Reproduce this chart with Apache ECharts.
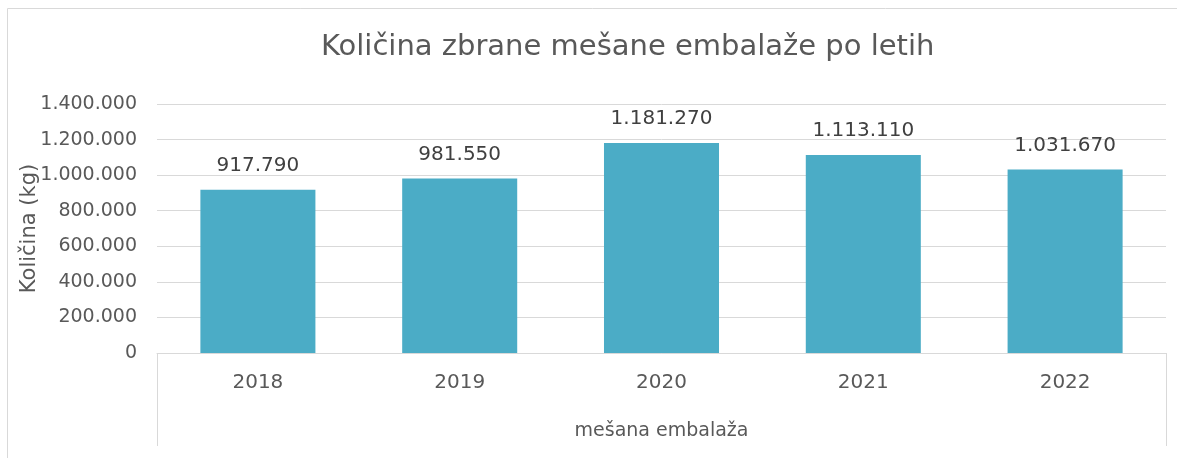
<!DOCTYPE html>
<html><head><meta charset="utf-8">
<script src="https://cdn.jsdelivr.net/npm/echarts@6/dist/echarts.min.js"></script>
<style>html,body{margin:0;padding:0;background:#fff}#c{width:1177px;height:458px}</style>
</head><body><div id="c"></div>
<script>
const categories = ['2018', '2019', '2020', '2021', '2022'];
const values = [917790, 981550, 1181270, 1113110, 1031670];
const groupLabel = ['mešana embalaža'];
const titleText = 'Količina zbrane mešane embalaže po letih';
const yName = 'Količina (kg)';

const fmt = v => String(Math.round(v)).replace(/\B(?=(\d{3})+(?!\d))/g, '.');
const FONT = 'DejaVu Sans';
const chart = echarts.init(document.getElementById('c'));
chart.setOption({
  animation: false,
  textStyle: { fontFamily: FONT },
  graphic: [{
    type: 'rect', shape: { x: 7.5, y: 8.5, width: 1200, height: 500 },
    style: { fill: 'none', stroke: '#D9D9D9', lineWidth: 1 }, silent: true
  }],
  title: {
    text: titleText, left: 316, top: 28,
    textStyle: { fontFamily: FONT, fontSize: 29, fontWeight: 'normal', color: '#595959' }
  },
  grid: { left: 157, right: 11, top: 104, bottom: 105 },
  xAxis: [{
    type: 'category', data: categories, position: 'bottom',
    axisLine: { lineStyle: { color: '#D9D9D9', width: 1 } },
    axisTick: { show: false },
    axisLabel: { color: '#595959', fontSize: 20, margin: 20, fontFamily: FONT }
  }, {
    type: 'category', data: groupLabel, position: 'bottom',
    axisLine: { show: false },
    axisTick: { show: true, length: 93, lineStyle: { color: '#D9D9D9' } },
    axisLabel: { color: '#595959', fontSize: 19, margin: 69, fontFamily: FONT }
  }],
  yAxis: {
    type: 'value', min: 0, max: 1400000, interval: 200000,
    name: yName, nameLocation: 'middle', nameGap: 117, nameRotate: 90,
    nameMoveOverlap: false,
    nameTextStyle: { color: '#595959', fontSize: 21, fontFamily: FONT },
    axisLine: { show: false }, axisTick: { show: false },
    axisLabel: { color: '#595959', fontSize: 19, margin: 20, fontFamily: FONT, formatter: fmt },
    splitLine: { lineStyle: { color: '#D9D9D9', width: 1 } }
  },
  series: [{
    type: 'bar', data: values, xAxisIndex: 0, barWidth: '57%',
    itemStyle: { color: '#4BACC6' },
    label: {
      show: true, position: 'top', distance: 14, color: '#404040',
      fontSize: 20, fontFamily: FONT, formatter: p => fmt(p.value)
    }
  }]
});
</script></body></html>
